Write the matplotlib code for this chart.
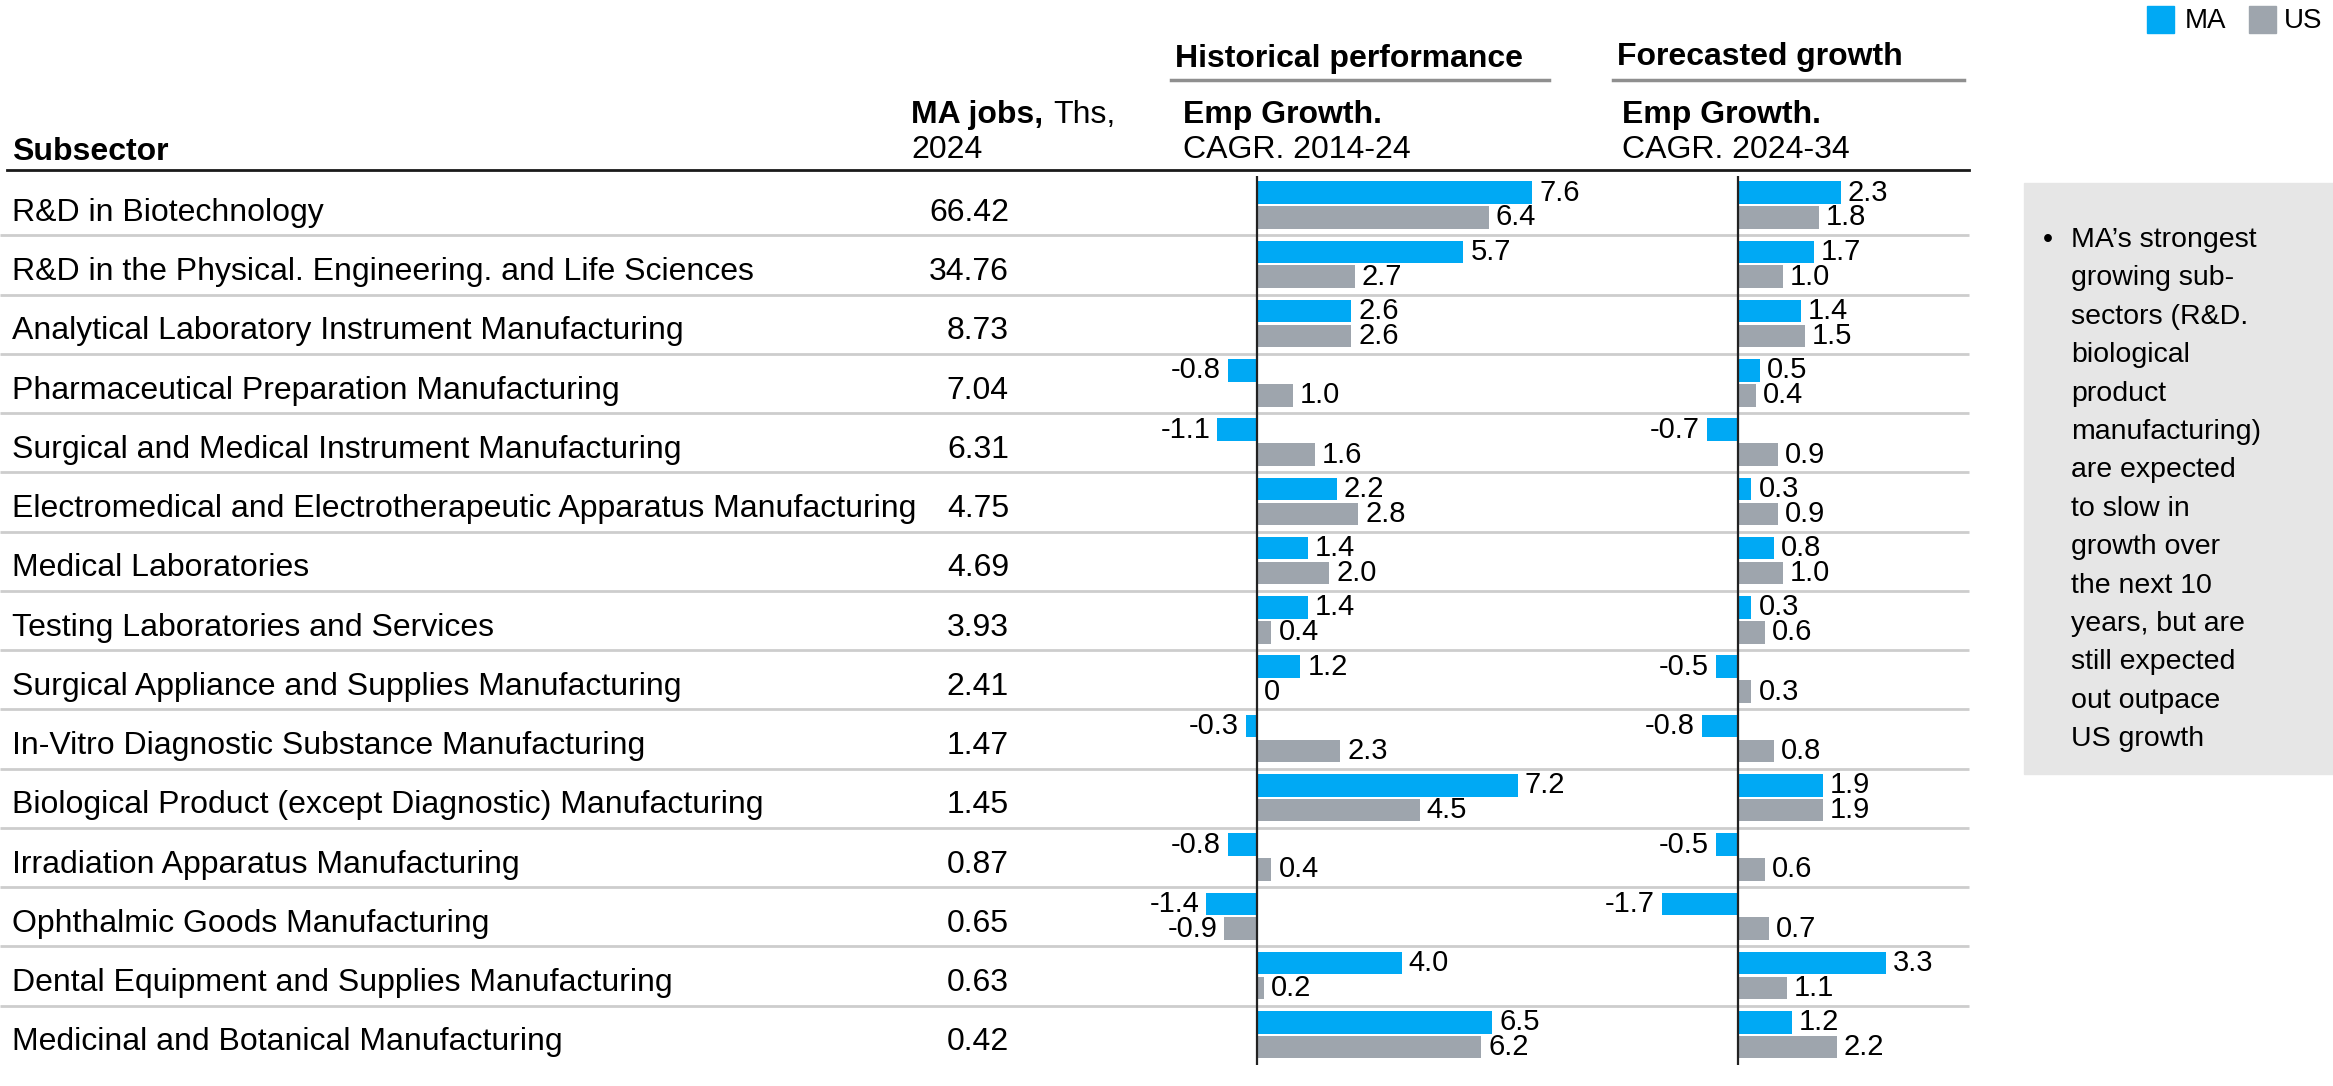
import matplotlib
matplotlib.use("Agg")
import matplotlib.pyplot as plt
from matplotlib.patches import Rectangle
from matplotlib.lines import Line2D

plt.rcParams['font.family'] = ['Liberation Sans', 'DejaVu Sans']

# data
subsectors = [
    "R&D in Biotechnology",
    "R&D in the Physical. Engineering. and Life Sciences",
    "Analytical Laboratory Instrument Manufacturing",
    "Pharmaceutical Preparation Manufacturing",
    "Surgical and Medical Instrument Manufacturing",
    "Electromedical and Electrotherapeutic Apparatus Manufacturing",
    "Medical Laboratories",
    "Testing Laboratories and Services",
    "Surgical Appliance and Supplies Manufacturing",
    "In-Vitro Diagnostic Substance Manufacturing",
    "Biological Product (except Diagnostic) Manufacturing",
    "Irradiation Apparatus Manufacturing",
    "Ophthalmic Goods Manufacturing",
    "Dental Equipment and Supplies Manufacturing",
    "Medicinal and Botanical Manufacturing",
]
ma_jobs = [66.42, 34.76, 8.73, 7.04, 6.31, 4.75, 4.69, 3.93, 2.41, 1.47, 1.45, 0.87, 0.65, 0.63, 0.42]
ma_hist = [7.6, 5.7, 2.6, -0.8, -1.1, 2.2, 1.4, 1.4, 1.2, -0.3, 7.2, -0.8, -1.4, 4.0, 6.5]
us_hist = [6.4, 2.7, 2.6, 1.0, 1.6, 2.8, 2.0, 0.4, 0.0, 2.3, 4.5, 0.4, -0.9, 0.2, 6.2]
ma_fore = [2.3, 1.7, 1.4, 0.5, -0.7, 0.3, 0.8, 0.3, -0.5, -0.8, 1.9, -0.5, -1.7, 3.3, 1.2]
us_fore = [1.8, 1.0, 1.5, 0.4, 0.9, 0.9, 1.0, 0.6, 0.3, 0.8, 1.9, 0.6, 0.7, 1.1, 2.2]

note_lines = ["MA\u2019s strongest", "growing sub-", "sectors (R&D.", "biological", "product",
              "manufacturing)", "are expected", "to slow in", "growth over", "the next 10",
              "years, but are", "still expected", "out outpace", "US growth"]

BLUE = "#00A9F4"
GRAY = "#9EA5AD"
SEP = "#CDCDCD"
FS = 23

W, H = 2333, 1086
TOP, BOT = 176, 1065
n = len(subsectors)
rows = list(range(n))


def fx(px):
    return px / W


def fy(px):
    return 1 - px / H


fig = plt.figure(figsize=(W / 100, H / 100), dpi=100)

# table part (rows in data units)
ax_tab = fig.add_axes([0, fy(BOT), 1, fy(TOP) - fy(BOT)])
ax_tab.set_xlim(0, W)
ax_tab.set_ylim(n - 0.5, -0.5)
ax_tab.axis('off')
for i in rows:
    ax_tab.text(12, i + 0.12, subsectors[i], va='center', ha='left', fontsize=FS)
    ax_tab.text(1009, i + 0.12, f"{ma_jobs[i]:.2f}", va='center', ha='right', fontsize=FS)
for i in rows[:-1]:
    ax_tab.hlines(i + 0.5, 0, 1969, color=SEP, lw=2)


def bar_panel(left_px, right_px, zero_px, px_per_unit, ma, us):
    ax = fig.add_axes([fx(left_px), fy(BOT), fx(right_px) - fx(left_px), fy(TOP) - fy(BOT)])
    ax.set_xlim((left_px - zero_px) / px_per_unit, (right_px - zero_px) / px_per_unit)
    ax.set_ylim(n - 0.5, -0.5)
    ax.axis('off')
    ma_pos = [r - 0.22 for r in rows]
    us_pos = [r + 0.2 for r in rows]
    ax.barh(ma_pos, ma, height=0.38, color=BLUE)
    ax.barh(us_pos, us, height=0.38, color=GRAY)
    ax.axvline(0, color="#222222", lw=1.6)
    for pos, vals in ((ma_pos, ma), (us_pos, us)):
        for y, v in zip(pos, vals):
            lab = "0" if v == 0 else f"{v:.1f}"
            if v < 0:
                ax.annotate(lab, (v, y), xytext=(-5, 0), textcoords='offset points',
                            ha='right', va='center', fontsize=21)
            else:
                ax.annotate(lab, (v, y), xytext=(5, 0), textcoords='offset points',
                            ha='left', va='center', fontsize=21)
    return ax


ax_h = bar_panel(1160, 1560, 1257, 36.2, ma_hist, us_hist)
ax_f = bar_panel(1620, 1960, 1738, 44.8, ma_fore, us_fore)

# headers
fig.text(fx(12), fy(152), "Subsector", fontsize=FS, fontweight='bold', va='center')
fig.text(fx(911), fy(115), "MA jobs,", fontsize=FS, fontweight='bold', va='center')
fig.text(fx(1053), fy(115), "Ths,", fontsize=FS, va='center')
fig.text(fx(911), fy(150), "2024", fontsize=FS, va='center')

fig.text(fx(1175), fy(59), "Historical performance", fontsize=FS, fontweight='bold', va='center')
fig.text(fx(1183), fy(115), "Emp Growth.", fontsize=FS, fontweight='bold', va='center')
fig.text(fx(1183), fy(150), "CAGR. 2014-24", fontsize=FS, va='center')
fig.text(fx(1617), fy(57), "Forecasted growth", fontsize=FS, fontweight='bold', va='center')
fig.text(fx(1622), fy(115), "Emp Growth.", fontsize=FS, fontweight='bold', va='center')
fig.text(fx(1622), fy(150), "CAGR. 2024-34", fontsize=FS, va='center')

fig.add_artist(Line2D([fx(1171), fx(1549)], [fy(80), fy(80)], color="#8F8F8F", lw=2.5))
fig.add_artist(Line2D([fx(1613), fx(1964)], [fy(80), fy(80)], color="#8F8F8F", lw=2.5))
fig.add_artist(Line2D([fx(7), fx(1969)], [fy(170), fy(170)], color="#1A1A1A", lw=2))

# legend
fig.add_artist(Rectangle((fx(2147), fy(33)), fx(27), 27 / H, color=BLUE))
fig.text(fx(2185), fy(21), "MA", fontsize=20, va='center')
fig.add_artist(Rectangle((fx(2249), fy(33)), fx(27), 27 / H, color=GRAY))
fig.text(fx(2284), fy(21), "US", fontsize=20, va='center')

# side note
fig.add_artist(Rectangle((fx(2024), fy(774)), fx(W - 2024), (774 - 183) / H,
                         color="#E6E6E6", zorder=0))
fig.text(fx(2043), fy(240), "\u2022", fontsize=20.5, va='center')
for k, line in enumerate(note_lines):
    fig.text(fx(2071), fy(240 + k * 38.4), line, fontsize=20.5, va='center')

fig.savefig("out.png", dpi=100)
